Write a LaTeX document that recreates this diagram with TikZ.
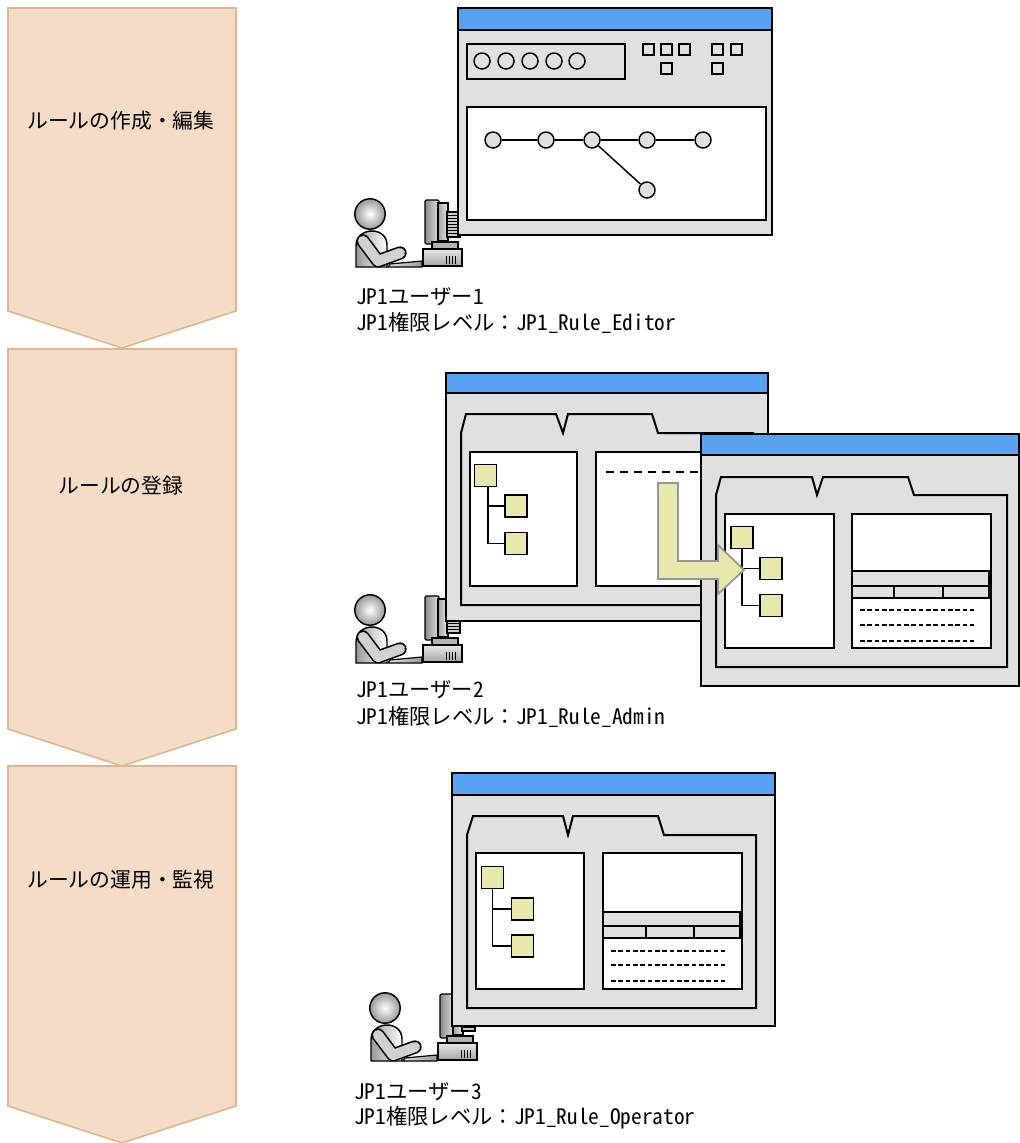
\documentclass[tikz,border=0pt]{standalone}
\usepackage{fontspec}
\setmainfont{Noto Sans CJK JP}
\newfontfamily\userfont[RawFeature=+hwid]{Noto Sans CJK JP}
\newcommand\widecolon{{\rmfamily ：}}
\begin{document}
\definecolor{titleblue}{RGB}{88,162,242}
\definecolor{wingray}{RGB}{224,224,224}
\definecolor{stepfill}{RGB}{245,220,198}
\definecolor{stepline}{RGB}{221,182,143}
\definecolor{treeyellow}{RGB}{232,232,172}
\definecolor{arrowgray}{RGB}{150,150,150}
\begin{tikzpicture}[x=0.75pt,y=-0.75pt,
  stepshape/.style={fill=stepfill, draw=stepline, line width=1.2pt, line join=miter},
  steplabel/.style={font=\fontsize{15.6}{18}\selectfont, inner sep=0pt},
  winbody/.style={fill=wingray, draw=black, line width=1.5pt},
  titlebar/.style={fill=titleblue, draw=black, line width=1.5pt},
  pane/.style={fill=white, draw=black, line width=1.5pt},
  folder/.style={draw=black, line width=1.5pt, line join=miter},
  band/.style={fill=wingray, draw=black, line width=1.5pt},
  gnode/.style={circle, fill=wingray, draw=black, line width=1.1pt, minimum size=12pt, inner sep=0pt},
  gedge/.style={draw=black, line width=1.1pt},
  tnode/.style={rectangle, fill=treeyellow, draw=black, line width=1.4pt, minimum size=16.5pt, inner sep=0pt},
  tedge/.style={draw=black, line width=1.3pt},
  toolbtn/.style={draw=black, line width=1.1pt},
  rowdash/.style={draw=black, line width=1.3pt, dash pattern=on 3.5pt off 2pt},
  headdash/.style={draw=black, line width=1.3pt, dash pattern=on 6pt off 4.5pt},
  userlabel/.style={font=\userfont\fontsize{16}{19}\selectfont, anchor=west, inner sep=0pt},
  bigarrow/.style={fill=treeyellow, draw=arrowgray, line width=1.3pt, line join=miter},
  user/.pic={
    % computer: monitor seen from the side, base unit, keyboard
    \shadedraw[left color=black!45, right color=black!12, line width=0.9pt, rounded corners=1pt] (55,-14) rectangle (69,30);
    \shadedraw[left color=black!35, right color=black!10, line width=0.9pt] (68,-11) rectangle (78,27);
    \filldraw[fill=black!20, line width=0.9pt] (77,-2) rectangle (90,23);
    \foreach \v in {1,4,...,22} \draw[line width=0.6pt] (77,\v) -- (90,\v);
    \filldraw[fill=black!30, line width=0.9pt] (62,28) rectangle (88,35);
    \shadedraw[top color=black!10, bottom color=black!35, line width=0.9pt] (53,35) rectangle (92,52);
    \foreach \v in {76,79,82,85} \draw[line width=0.7pt] (\v,42) -- (\v,50);
    \shadedraw[left color=black!10, right color=black!40, line width=0.9pt] (18,53) -- (52,53) -- (52,47) -- (20,50) -- cycle;
    % person
    \shadedraw[left color=black!40, right color=white, line width=1.1pt]
      (-14,53) -- (-14,32) .. controls (-14,22) and (-6,17) .. (2,17)
      .. controls (10,17) and (17,22) .. (17,31) -- (17,53) -- cycle;
    \draw[line width=10pt, line cap=round, line join=round] (-7,27) -- (8,47) -- (30,39);
    \draw[line width=7.6pt, black!18, line cap=round, line join=round] (-7,27) -- (8,47) -- (30,39);
    \shadedraw[inner color=white, outer color=black!40, line width=1.1pt] (0,0) circle (11.4pt);
  }
]
\useasboundingbox (0,0) rectangle (1020,1143);

% process steps
\path[stepshape] (8,8) -- (236,8) -- (236,311) -- (122,348) -- (8,311) -- cycle;
\path[stepshape] (8,349) -- (236,349) -- (236,729) -- (122,766) -- (8,729) -- cycle;
\path[stepshape] (8,766) -- (236,766) -- (236,1106) -- (122,1143) -- (8,1106) -- cycle;
\node[steplabel] (s1) at (121,121) {ルールの作成・編集};
\node[steplabel] (s2) at (121,486) {ルールの登録};
\node[steplabel] (s3) at (121,880) {ルールの運用・監視};

% users at their computers
\pic at (370,214) {user};
\pic at (370,610) {user};
\pic at (385,1008) {user};

% ---- rule editor window ----
\path[winbody] (458,8) rectangle (772,235);
\path[titlebar] (458,8) rectangle (772,30);
\draw[folder] (467,44) rectangle (625,79);
\foreach \cx in {482,506,530,554,577} \draw[toolbtn] (\cx,61) circle (6pt);
\foreach \bx/\by in {643/44,661/44,679/44,661/63,712/44,731/44,712/63}
  \draw[toolbtn] (\bx,\by) rectangle ++(11,11);
\path[pane] (467,107) rectangle (766,220);
\node[gnode] (g1) at (493,140) {};
\node[gnode] (g2) at (546,140) {};
\node[gnode] (g3) at (592,140) {};
\node[gnode] (g4) at (647,140) {};
\node[gnode] (g5) at (703,140) {};
\node[gnode] (g6) at (647,190) {};
\draw[gedge] (g1) -- (g2);
\draw[gedge] (g2) -- (g3);
\draw[gedge] (g3) -- (g4);
\draw[gedge] (g4) -- (g5);
\draw[gedge] (g3) -- (g6);

% ---- registration: source window ----
\path[winbody] (446,373) rectangle (768,621);
\path[titlebar] (446,373) rectangle (768,393);
\draw[folder] (461,605) -- (461,433) -- (466,414) -- (556,414) -- (563,433) -- (568,414)
  -- (652,414) -- (658,433) -- (753,433) -- (753,605) -- cycle;
\path[pane] (470,452) rectangle (577,586);
\path[pane] (596,452) rectangle (740,586);
\draw[headdash] (606,472) -- (740,472);
\node[tnode] (a1) at (485.5,475.5) {};
\node[tnode] (a2) at (516,506) {};
\node[tnode] (a3) at (516,543.5) {};
\draw[tedge] ([xshift=2pt]a1.south) |- (a2.west);
\draw[tedge] ([xshift=2pt]a1.south) |- (a3.west);

% ---- registration: target window ----
\path[winbody] (701,434) rectangle (1019,686);
\path[titlebar] (701,434) rectangle (1019,455);
\draw[folder] (716,667) -- (716,495) -- (721,477) -- (812,477) -- (817,495) -- (823,477)
  -- (908,477) -- (914,495) -- (1007,495) -- (1007,667) -- cycle;
\path[pane] (725,514) rectangle (834,648);
\path[pane] (852,514) rectangle (991,648);
\path[band] (852,571) rectangle (989,598);
\draw[folder] (852,586) -- (989,586);
\draw[folder] (894,586) -- (894,598);
\draw[folder] (943,586) -- (943,598);
\foreach \ry in {610,625,641} \draw[rowdash] (860,\ry) -- (974,\ry);
\node[tnode] (b1) at (742,537.5) {};
\node[tnode] (b2) at (771,568.5) {};
\node[tnode] (b3) at (771,605.5) {};
\draw[tedge] (b1.south) |- (b2.west);
\draw[tedge] (b1.south) |- (b3.west);

% transfer arrow
\path[bigarrow] (658,483) -- (678,483) -- (678,561) -- (718,561) -- (718,545) -- (744,570)
  -- (718,594) -- (718,579) -- (658,579) -- cycle;

% ---- operation and monitoring window ----
\path[winbody] (452,773) rectangle (775,1026);
\path[titlebar] (452,773) rectangle (775,795);
\draw[folder] (467,1008) -- (467,835) -- (473,816) -- (563,816) -- (568,835) -- (573,816)
  -- (658,816) -- (664,835) -- (756,835) -- (756,1008) -- cycle;
\path[pane] (476,853) rectangle (584,989);
\path[pane] (603,853) rectangle (742,989);
\path[band] (603,912) rectangle (740,938);
\draw[folder] (603,926) -- (740,926);
\draw[folder] (646,926) -- (646,938);
\draw[folder] (694,926) -- (694,938);
\foreach \ry in {951,965,981} \draw[rowdash] (611,\ry) -- (725,\ry);
\node[tnode] (c1) at (492.5,877.5) {};
\node[tnode] (c2) at (522.5,909) {};
\node[tnode] (c3) at (522.5,946) {};
\draw[tedge] (c1.south) |- (c2.west);
\draw[tedge] (c1.south) |- (c3.west);

% user captions
\node[userlabel] (u1a) at (356,297) {JP1ユーザー1};
\node[userlabel] (u1b) at (356,323) {JP1権限レベル\widecolon JP1\_Rule\_Editor};
\node[userlabel] (u2a) at (356,690) {JP1ユーザー2};
\node[userlabel] (u2b) at (356,717) {JP1権限レベル\widecolon JP1\_Rule\_Admin};
\node[userlabel] (u3a) at (354,1092) {JP1ユーザー3};
\node[userlabel] (u3b) at (354,1118) {JP1権限レベル\widecolon JP1\_Rule\_Operator};
\end{tikzpicture}
\end{document}
